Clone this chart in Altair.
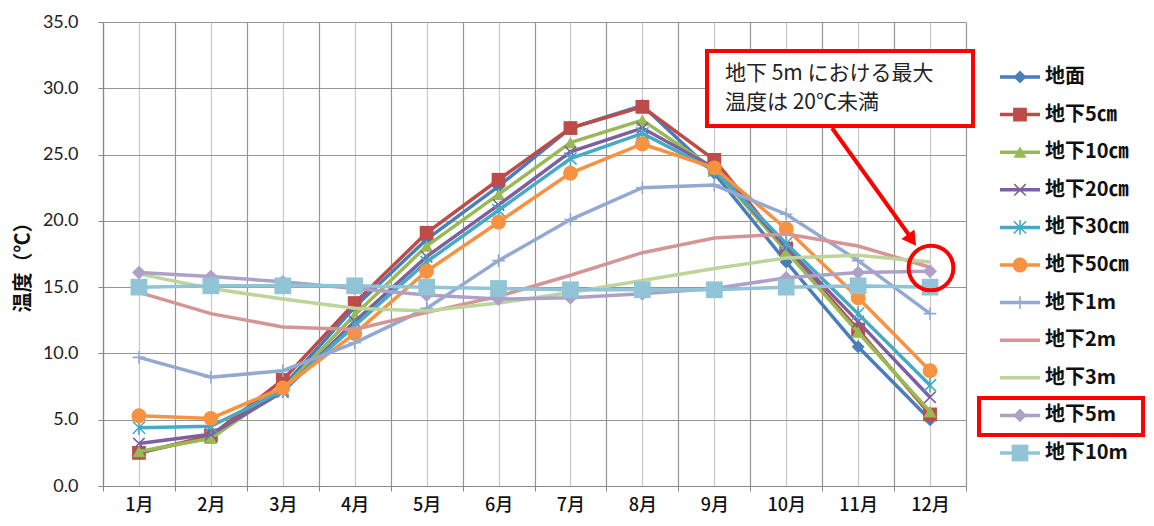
import altair as alt
import pandas as pd

months = ["1月", "2月", "3月", "4月", "5月", "6月", "7月", "8月", "9月", "10月", "11月", "12月"]
month_num = list(range(1, 13))

series_names = ["地面", "地下5㎝", "地下10㎝", "地下20㎝", "地下30㎝", "地下50㎝",
                "地下1m", "地下2m", "地下3m", "地下5m", "地下10m"]

v_ground = [2.5, 3.7, 7.5, 13.5, 18.6, 22.6, 27.0, 28.7, 23.6, 16.9, 10.5, 5.0]
v_5cm = [2.5, 3.8, 8.0, 13.8, 19.1, 23.1, 27.0, 28.6, 24.6, 17.9, 11.8, 5.4]
v_10cm = [2.6, 3.6, 7.3, 12.9, 18.1, 22.0, 25.9, 27.6, 23.9, 17.7, 11.6, 5.6]
v_20cm = [3.2, 3.9, 7.1, 12.4, 17.3, 21.2, 25.2, 27.0, 24.0, 18.0, 12.4, 6.7]
v_30cm = [4.4, 4.5, 7.2, 12.1, 16.9, 20.8, 24.7, 26.6, 23.8, 18.3, 13.0, 7.6]
v_50cm = [5.3, 5.1, 7.4, 11.5, 16.2, 19.9, 23.6, 25.8, 24.0, 19.4, 14.2, 8.7]
v_1m = [9.7, 8.2, 8.7, 10.8, 13.4, 17.0, 20.1, 22.5, 22.7, 20.5, 17.0, 13.0]
v_2m = [14.6, 13.0, 12.0, 11.8, 13.1, 14.3, 15.9, 17.6, 18.7, 19.0, 18.1, 16.5]
v_3m = [16.0, 14.9, 14.1, 13.4, 13.2, 13.8, 14.6, 15.5, 16.4, 17.2, 17.4, 16.9]
v_5m = [16.1, 15.8, 15.4, 14.9, 14.4, 14.1, 14.2, 14.5, 14.9, 15.7, 16.1, 16.2]
v_10m = [15.0, 15.1, 15.1, 15.1, 15.0, 14.9, 14.8, 14.8, 14.8, 15.0, 15.1, 15.0]

series_values = [v_ground, v_5cm, v_10cm, v_20cm, v_30cm, v_50cm, v_1m, v_2m, v_3m, v_5m, v_10m]

colors = ["#4A7EBB", "#BE4B48", "#98B954", "#7D60A0", "#46AAC5", "#F69240",
          "#93A9D2", "#D59594", "#BDD49B", "#AEA1C8", "#90C4D6"]

X_PATH = "M-1,-1L1,1M-1,1L1,-1"
AST_PATH = "M-1,-1L1,1M-1,1L1,-1M0,-1.2L0,1.2"
PLUS_PATH = "M-1,0L1,0M0,-1L0,1"
# (shape, filled, size)
markers = [("diamond", True, 170), ("square", True, 190), ("triangle-up", True, 170),
           ("X", False, 130), ("AST", False, 150), ("circle", True, 220),
           ("PLUS", False, 160), (None, None, 0), (None, None, 0),
           ("diamond", True, 190), ("square", True, 280)]
shape_map = {"X": X_PATH, "AST": AST_PATH, "PLUS": PLUS_PATH}

annot_lines = ["地下 5m における最大", "温度は 20℃未満"]

W, H = 863, 464

x_vals = [i / 2 for i in range(1, 26)]
X = alt.X("m:Q",
          scale=alt.Scale(domain=[0.5, 12.5], nice=False, zero=False),
          axis=alt.Axis(values=x_vals, title=None,
                        labelExpr="datum.value % 1 === 0 ? datum.value + '月' : ''",
                        labelFont="Noto Sans CJK JP", labelFontSize=18, labelFontWeight=500,
                        labelColor="#111",
                        labelPadding=5, tickSize=5, tickColor="#888",
                        tickOpacity={"condition": {"test": "datum.value % 1 === 0", "value": 0}, "value": 1},
                        gridColor={"condition": {"test": "datum.value % 1 === 0", "value": "#c8c8c8"}, "value": "#959595"},
                        gridWidth=1.2, domainColor="#888", domainWidth=1.2))
Y = alt.Y("v:Q",
          scale=alt.Scale(domain=[0, 35], nice=False),
          axis=alt.Axis(values=[0, 5, 10, 15, 20, 25, 30, 35], format=".1f",
                        title="温度（℃）", titleFont="Noto Sans CJK JP", titleFontSize=20,
                        titleFontWeight="bold", titleColor="#111", titleAngle=270,
                        titleX=-80, titleY=240, titleAlign="center", titleBaseline="middle",
                        labelFont="Lato", labelFontSize=18, labelColor="#222",
                        labelPadding=20, tickSize=5, tickColor="#888",
                        gridColor="#959595", gridWidth=1.2, domainColor="#888", domainWidth=1.2))

layers = []
for name, vals, col, mk in zip(series_names, series_values, colors, markers):
    df = pd.DataFrame({"m": month_num, "month": months, "v": vals, "s": name})
    layers.append(alt.Chart(df).mark_line(color=col, strokeWidth=3.5).encode(x=X, y=Y))
    shape, filled, size = mk
    if shape is not None:
        sh = shape_map.get(shape, shape)
        if filled:
            pt = alt.Chart(df).mark_point(shape=sh, filled=True, color=col, size=size, opacity=1)
        else:
            pt = alt.Chart(df).mark_point(shape=sh, filled=False, color=col, size=size,
                                          strokeWidth=1.6, opacity=1)
        layers.append(pt.encode(x=X, y=Y))

# legend
leg_x1, leg_x2, leg_mx, leg_tx = 897, 937, 917, 942
leg_y0, leg_dy = 55, 37.6
for i, (name, col, mk) in enumerate(zip(series_names, colors, markers)):
    ly = leg_y0 + i * leg_dy
    ldf = pd.DataFrame({"s": [name]})
    layers.append(alt.Chart(ldf).mark_rule(color=col, strokeWidth=3.5).encode(
        x=alt.value(leg_x1), x2=alt.value(leg_x2), y=alt.value(ly)))
    shape, filled, size = mk
    if shape is not None:
        sh = shape_map.get(shape, shape)
        if filled:
            pt = alt.Chart(ldf).mark_point(shape=sh, filled=True, color=col, size=size, opacity=1)
        else:
            pt = alt.Chart(ldf).mark_point(shape=sh, filled=False, color=col, size=size,
                                           strokeWidth=1.6, opacity=1)
        layers.append(pt.encode(x=alt.value(leg_mx), y=alt.value(ly)))
    layers.append(alt.Chart(ldf).mark_text(align="left", baseline="middle",
                                           font="Noto Sans CJK JP", fontSize=20,
                                           fontWeight="bold", color="#111").encode(
        x=alt.value(leg_tx), y=alt.value(ly), text="s:N"))

# annotations
one = pd.DataFrame({"a": [0]})
layers.append(alt.Chart(one).mark_rect(fill="white", stroke="#FF0000", strokeWidth=4).encode(
    x=alt.value(604), x2=alt.value(870), y=alt.value(29), y2=alt.value(104)))
for j, t in enumerate(annot_lines):
    layers.append(alt.Chart(pd.DataFrame({"t": [t]})).mark_text(
        align="left", baseline="middle", font="Noto Sans CJK JP", fontSize=21,
        color="#222").encode(x=alt.value(622), y=alt.value(52 + j * 29), text="t:N"))
layers.append(alt.Chart(one).mark_rule(color="#FF0000", strokeWidth=4).encode(
    x=alt.value(729), x2=alt.value(806), y=alt.value(106), y2=alt.value(213)))
layers.append(alt.Chart(one).mark_point(shape="triangle-up", filled=True, color="#FF0000",
                                        size=260, opacity=1, angle=144).encode(
    x=alt.value(809), y=alt.value(218)))
layers.append(alt.Chart(one).mark_point(shape="circle", filled=False, color="#FF0000",
                                        size=2000, strokeWidth=4, opacity=1).encode(
    x=alt.value(828), y=alt.value(246)))
layers.append(alt.Chart(one).mark_rect(fill=None, stroke="#FF0000", strokeWidth=4).encode(
    x=alt.value(876), x2=alt.value(1040), y=alt.value(376), y2=alt.value(413)))

chart = alt.layer(*layers).properties(
    width=W, height=H,
    padding={"left": 95, "top": 14, "right": 180, "bottom": 30},
    autosize=alt.AutoSizeParams(type="none"),
    background="white",
).configure_view(stroke=None)

chart.save("out.html", embed_options={"renderer": "svg", "actions": False})
